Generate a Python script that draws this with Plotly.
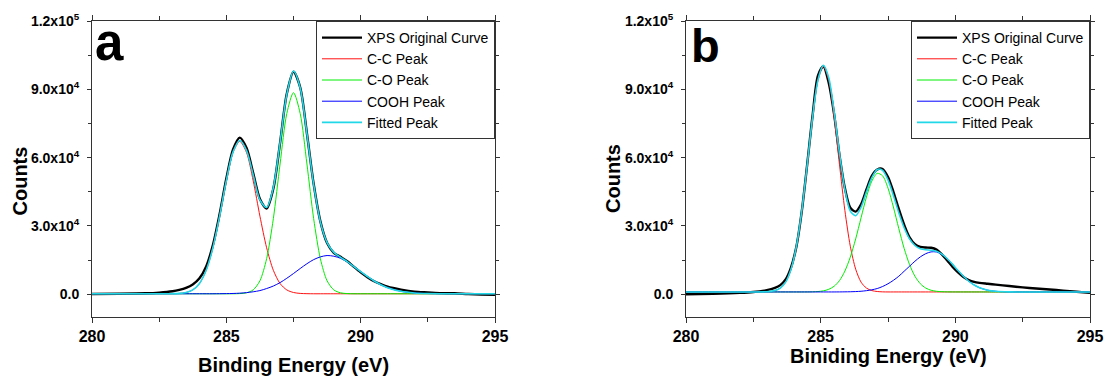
import plotly.graph_objects as go

# ---------------- data (counts in units of 1e3) ----------------
energy_a = [280, 281, 282, 282.5, 283, 283.25, 283.5, 283.75, 284, 284.25, 284.5, 284.75,
            285, 285.25, 285.5, 285.75, 286, 286.25, 286.5, 286.75, 287, 287.25, 287.5,
            287.75, 288, 288.25, 288.5, 288.75, 289, 289.25, 289.5, 289.75, 290, 290.25,
            290.5, 290.75, 291, 291.5, 292, 292.5, 293, 293.5, 294, 294.5, 295]

xps_a = [0.1, 0.2, 0.4, 0.7, 1.3, 1.9, 2.8, 4.3, 7.0, 12.2, 21.6, 35.2, 50.8, 63.6, 68.8,
         64.3, 53.2, 41.8, 37.6, 46.4, 66.5, 88.0, 97.7, 90.8, 70.6, 48.5, 32.0, 22.5,
         18.2, 16.4, 14.5, 12.0, 9.6, 7.5, 5.7, 4.4, 3.3, 2.0, 1.1, 0.8, 0.5, 0.4, 0.1,
         -0.1, -0.3]
cc_a = [0.2, 0.2, 0.2, 0.2, 0.24, 0.36, 0.76, 1.9, 4.7, 10.5, 20.4, 34.3, 49.8, 62.3, 67.1,
        62.3, 49.8, 34.3, 20.4, 10.5, 4.7, 1.9, 0.76, 0.36, 0.24, 0.2, 0.2, 0.2, 0.2, 0.2,
        0.2, 0.2, 0.2, 0.2, 0.2, 0.2, 0.2, 0.2, 0.2, 0.2, 0.2, 0.2, 0.2, 0.2, 0.2]
co_a = [0.2, 0.2, 0.2, 0.2, 0.2, 0.2, 0.2, 0.2, 0.2, 0.2, 0.2, 0.2, 0.2, 0.21, 0.28, 0.62,
        1.9, 5.9, 15.6, 33.2, 57.2, 79.3, 88.5, 79.3, 57.2, 33.2, 15.6, 5.9, 1.9, 0.62,
        0.28, 0.21, 0.2, 0.2, 0.2, 0.2, 0.2, 0.2, 0.2, 0.2, 0.2, 0.2, 0.2, 0.2, 0.2]
cooh_a = [0.2, 0.2, 0.2, 0.2, 0.2, 0.2, 0.2, 0.2, 0.2, 0.2, 0.2, 0.23, 0.27, 0.34, 0.47,
          0.7, 1.07, 1.6, 2.5, 3.6, 5.1, 7.0, 9.1, 11.3, 13.4, 15.2, 16.4, 17.0, 16.7,
          15.8, 14.2, 12.1, 9.9, 7.8, 5.8, 4.2, 2.9, 1.27, 0.55, 0.29, 0.22, 0.2, 0.2,
          0.2, 0.2]
fit_a = [0.2, 0.2, 0.2, 0.2, 0.24, 0.36, 0.76, 1.9, 4.7, 10.5, 20.4, 34.3, 49.9, 62.5, 67.5,
         63.2, 52.4, 41.4, 38.1, 46.9, 66.6, 87.8, 98.0, 90.6, 70.4, 48.2, 31.8, 22.7,
         18.4, 16.2, 14.3, 12.1, 9.9, 7.8, 5.8, 4.2, 2.9, 1.27, 0.55, 0.29, 0.22, 0.2,
         0.2, 0.2, 0.2]

energy_b = [280, 281, 282, 282.5, 283, 283.3, 283.5, 283.7, 283.9, 284.1, 284.3, 284.5,
            284.7, 284.9, 285.1, 285.3, 285.5, 285.7, 285.9, 286.1, 286.3, 286.5, 286.7,
            286.9, 287.1, 287.3, 287.5, 287.7, 287.9, 288.1, 288.3, 288.5, 288.7, 288.9,
            289.1, 289.3, 289.5, 289.7, 289.9, 290.1, 290.3, 290.5, 290.7, 290.9, 291.2,
            291.5, 292, 292.5, 293, 293.5, 294, 294.5, 295]

xps_b = [0.0, 0.2, 0.6, 1.0, 1.8, 2.8, 4.0, 6.5, 11.8, 21.0, 36.5, 57.0, 78.5, 96.0, 100.0,
         92.8, 79.0, 61.0, 46.5, 38.0, 36.3, 39.5, 46.0, 52.0, 54.8, 55.0, 51.5, 45.0,
         37.5, 30.5, 25.0, 22.0, 20.8, 20.5, 20.4, 19.6, 17.5, 14.8, 12.0, 9.6, 7.6, 6.2,
         5.4, 5.0, 4.6, 4.2, 3.6, 3.0, 2.5, 2.1, 1.6, 1.1, 0.6]
cc_b = [1.0, 1.0, 1.0, 1.0, 1.1, 1.6, 2.7, 5.3, 11.0, 21.1, 36.7, 56.8, 77.7, 93.9, 100.0,
        93.9, 77.7, 56.8, 36.7, 21.1, 11.0, 5.3, 2.7, 1.6, 1.2, 1.04, 1.0, 1.0, 1.0, 1.0,
        1.0, 1.0, 1.0, 1.0, 1.0, 1.0, 1.0, 1.0, 1.0, 1.0, 1.0, 1.0, 1.0, 1.0, 1.0, 1.0,
        1.0, 1.0, 1.0, 1.0, 1.0, 1.0, 1.0]
co_b = [1.0, 1.0, 1.0, 1.0, 1.0, 1.0, 1.0, 1.0, 1.0, 1.0, 1.0, 1.02, 1.07, 1.19, 1.48,
        2.16, 3.5, 6.0, 10.2, 16.3, 24.3, 33.6, 42.7, 49.7, 53.1, 52.0, 46.6, 38.3, 28.9,
        20.1, 13.0, 7.9, 4.6, 2.72, 1.75, 1.3, 1.11, 1.04, 1.01, 1.0, 1.0, 1.0, 1.0, 1.0,
        1.0, 1.0, 1.0, 1.0, 1.0, 1.0, 1.0, 1.0, 1.0]
cooh_b = [1.0, 1.0, 1.0, 1.0, 1.0, 1.0, 1.0, 1.0, 1.0, 1.0, 1.0, 1.0, 1.0, 1.0, 1.0, 1.0,
          1.0, 1.02, 1.05, 1.09, 1.17, 1.31, 1.56, 1.94, 2.5, 3.4, 4.6, 6.1, 7.9, 10.1,
          12.3, 14.5, 16.4, 17.8, 18.6, 18.56, 17.5, 15.6, 13.1, 10.4, 7.9, 5.7, 4.05,
          2.85, 1.78, 1.28, 1.04, 1.0, 1.0, 1.0, 1.0, 1.0, 1.0]
fit_b = [1.0, 1.0, 1.0, 1.0, 1.1, 1.6, 2.7, 5.3, 11.0, 21.1, 36.7, 56.8, 77.8, 94.1, 100.5,
         95.1, 80.2, 61.8, 46.0, 36.5, 34.5, 38.2, 45.0, 51.2, 54.8, 54.4, 50.2, 43.4,
         35.8, 29.2, 24.3, 21.4, 20.0, 19.5, 19.35, 18.9, 17.6, 15.6, 13.1, 10.4, 7.9,
         5.7, 4.05, 2.85, 1.78, 1.28, 1.04, 1.0, 1.0, 1.0, 1.0, 1.0, 1.0]

series_names = ["XPS Original Curve", "C-C Peak", "C-O Peak", "COOH Peak", "Fitted Peak"]
x_tick_vals = [280, 285, 290, 295]
x_tick_text = ["280", "285", "290", "295"]
y_tick_vals = [0, 30000, 60000, 90000, 120000]
y_tick_text = ["0.0", "3.0x10<sup>4</sup>", "6.0x10<sup>4</sup>",
               "9.0x10<sup>4</sup>", "1.2x10<sup>5</sup>"]

# ---------------- styling ----------------
colors = ["#000000", "#FF1010", "#00EE00", "#0000FF", "#20D8E8"]
widths = [2.4, 1, 1, 1, 1.6]
FONT = "Liberation Sans, Arial, sans-serif"
AX = "#333333"

fig = go.Figure()


def add_panel(energy, series, xaxis, yaxis, legend):
    for name, vals, c, w in zip(series_names, series, colors, widths):
        fig.add_trace(go.Scatter(
            x=energy, y=[v * 1000 for v in vals], mode="lines", name=name,
            line=dict(color=c, width=w, shape="spline", smoothing=0.8),
            xaxis=xaxis, yaxis=yaxis, legend=legend, showlegend=True))


add_panel(energy_a, [xps_a, cc_a, co_a, cooh_a, fit_a], "x", "y", "legend")
add_panel(energy_b, [xps_b, cc_b, co_b, cooh_b, fit_b], "x2", "y2", "legend2")

W, H = 1104, 377
dom_a = [92 / W, 495 / W]
dom_b = [686 / W, 1090 / W]
dom_y = [(H - 317) / H, (H - 21) / H]

xcommon = dict(range=[280, 295], tickvals=x_tick_vals, ticktext=x_tick_text,
               showline=True, linecolor=AX, linewidth=1, mirror="allticks",
               ticks="outside", ticklen=5, tickcolor=AX, showgrid=False, zeroline=False,
               automargin=False,
               tickfont=dict(family=FONT, size=16, color="#000", weight="bold"),
               minor=dict(tickvals=[282.5, 287.5, 292.5], ticks="outside", ticklen=4,
                          tickcolor=AX))
ycommon = dict(range=[-10000, 120000], tickvals=y_tick_vals, ticktext=y_tick_text,
               showline=True, linecolor=AX, linewidth=1, mirror="allticks",
               ticks="outside", ticklen=4, tickcolor=AX, showgrid=False, zeroline=False,
               automargin=False, ticklabelstandoff=5,
               tickfont=dict(family=FONT, size=14, color="#000", weight="bold"),
               minor=dict(tickvals=[15000, 45000, 75000, 105000], ticks="outside",
                          ticklen=3, tickcolor=AX))

legcommon = dict(bgcolor="white", bordercolor=AX, borderwidth=1,
                 font=dict(family=FONT, size=14, color="#000"),
                 xanchor="right", yanchor="top", itemwidth=40, tracegroupgap=0)

fig.update_layout(
    width=W, height=H, margin=dict(l=0, r=0, t=0, b=0, autoexpand=False),
    paper_bgcolor="white", plot_bgcolor="white",
    xaxis=dict(domain=dom_a, anchor="y", **xcommon),
    yaxis=dict(domain=dom_y, anchor="x", **ycommon),
    xaxis2=dict(domain=dom_b, anchor="y2", **xcommon),
    yaxis2=dict(domain=dom_y, anchor="x2", **ycommon),
    legend=dict(x=dom_a[1], y=dom_y[1], **legcommon),
    legend2=dict(x=dom_b[1], y=dom_y[1], **legcommon),
)

title_font = dict(family=FONT, size=20, color="#000", weight="bold")
annots = [
    dict(text="Binding Energy (eV)", x=(92 + 495) / 2 / W, y=(H - 365) / H, font=title_font),
    dict(text="Biniding Energy (eV)", x=(686 + 1090) / 2 / W, y=(H - 356) / H, font=title_font),
    dict(text="Counts", x=19 / W, y=(H - 181.5) / H, textangle=-90, font=title_font),
    dict(text="Counts", x=612.5 / W, y=(H - 178.5) / H, textangle=-90, font=title_font),
    dict(text="a", x=109 / W, y=(H - 42) / H,
         font=dict(family=FONT, size=51, color="#000", weight="bold")),
    dict(text="b", x=705 / W, y=(H - 45) / H,
         font=dict(family=FONT, size=47, color="#000", weight="bold")),
]
for a in annots:
    fig.add_annotation(xref="paper", yref="paper", showarrow=False,
                       xanchor="center", yanchor="middle", **a)

fig.write_html("out.html")
